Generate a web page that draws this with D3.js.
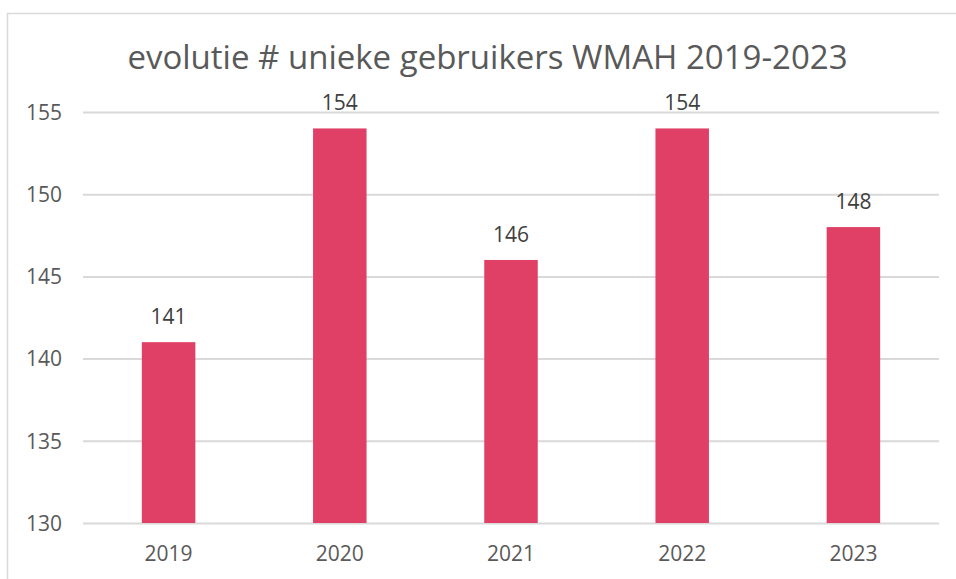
<!DOCTYPE html>
<html>
<head>
<meta charset="utf-8">
<script src="https://cdn.jsdelivr.net/npm/d3@7"></script>
<style>
  body { margin:0; background:#ffffff; }
  svg { display:block; }
  svg text { font-family:"Open Sans", sans-serif; }
  .title { fill:#595959; font-size:33px; }
  .tick text { fill:#595959; font-size:21px; }
  .valueLabel { fill:#404040; font-size:21px; }
</style>
</head>
<body>
<svg></svg>
<script>

//years on the x axis
var years = ["2019","2020","2021","2022","2023"];
//unique users per year
var users = [141,154,146,154,148];
//values for the y axis
var yTicks = [130,135,140,145,150,155];

var chartTitle = "evolutie # unieke gebruikers WMAH 2019-2023";


var makeTranslateString = function(x,y)
{
    return "translate("+x+","+y+")";
}


//draws the bars and the number above each bar
var drawBars = function(data,target,xScale,yScale)
{
    var barWidth = xScale.bandwidth();

    target.selectAll("rect.bar")
        .data(data)
        .enter()
        .append("rect")
        .classed("bar",true)
        .attr("x",function(d){ return xScale(d.year); })
        .attr("y",function(d){ return yScale(d.users); })
        .attr("width",barWidth)
        .attr("height",function(d){ return yScale(yTicks[0])-yScale(d.users); })
        .attr("fill","#E04066")

    target.selectAll("text.valueLabel")
        .data(data)
        .enter()
        .append("text")
        .classed("valueLabel",true)
        .attr("text-anchor","middle")
        .attr("x",function(d){ return xScale(d.year)+barWidth/2; })
        .attr("y",function(d){ return yScale(d.users)-18; })
        .text(function(d){ return d.users; })
}


//gridlines, y tick labels and x category labels
var drawAxes = function(graph,margins,xScale,yScale)
{
    var svg = d3.select("svg");

    var yAxis = d3.axisLeft(yScale)
        .tickValues(yTicks)
        .tickSize(-graph.width)
        .tickPadding(21)

    var yG = svg.append("g")
        .attr("transform",makeTranslateString(margins.left,0))
        .call(yAxis)
    yG.select(".domain").remove();
    yG.selectAll(".tick line")
        .attr("stroke","#d9d9d9")
        .attr("stroke-width",2)
    yG.selectAll(".tick text")
        .attr("dy","0.35em")

    var xAxis = d3.axisBottom(xScale)
        .tickSize(0)
        .tickPadding(23)

    var xG = svg.append("g")
        .attr("transform",makeTranslateString(0,yScale(yTicks[0])))
        .call(xAxis)
    xG.select(".domain").remove();
}


var initGraph = function()
{
    var screen = {width:956,height:579}
    var margins = {left:83,right:17,top:112,bottom:56}

    var graph =
        {
            width:screen.width-margins.left-margins.right,
            height:screen.height-margins.top-margins.bottom
        }

    var svg = d3.select("svg")
        .attr("width",screen.width)
        .attr("height",screen.height)

    //chart border, cut off on the right and bottom
    svg.append("rect")
        .attr("x",7.5)
        .attr("y",13.5)
        .attr("width",1000)
        .attr("height",1000)
        .attr("fill","none")
        .attr("stroke","#d9d9d9")
        .attr("stroke-width",1.5)

    svg.append("text")
        .classed("title",true)
        .attr("text-anchor","middle")
        .attr("x",487.5)
        .attr("y",69)
        .text(chartTitle)

    var xScale = d3.scaleBand()
        .domain(years)
        .range([margins.left,margins.left+graph.width])
        .paddingInner(0.6875)
        .paddingOuter(0.34375)

    var yScale = d3.scaleLinear()
        .domain([130,155])
        .range([margins.top+graph.height,margins.top])

    var data = years.map(function(year,i)
    {
        return {year:year,users:users[i]};
    })

    drawAxes(graph,margins,xScale,yScale);
    drawBars(data,svg.append("g"),xScale,yScale);
}

initGraph();
</script>
</body>
</html>
